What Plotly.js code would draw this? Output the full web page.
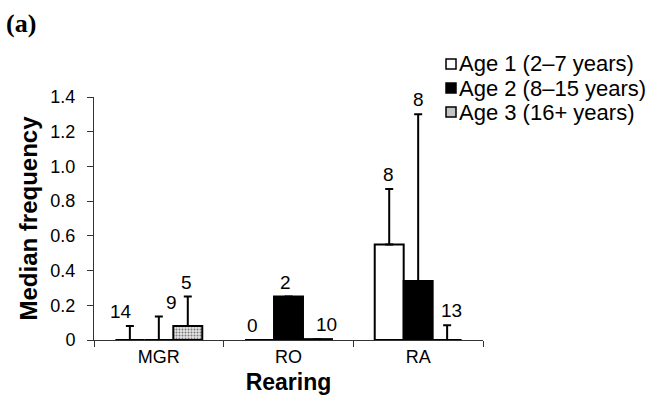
<!DOCTYPE html>
<html><head><meta charset="utf-8">
<script src="https://cdn.plot.ly/plotly-3.0.1.min.js"></script>
<style>body{margin:0;background:#fff}#c{width:665px;height:397px}</style>
</head><body><div id="c"></div>
<script>
const categories = ['MGR', 'RO', 'RA'];
const seriesNames = ['Age 1 (2\u20137 years)', 'Age 2 (8\u201315 years)', 'Age 3 (16+ years)'];
const age1 = [0, 0, 0.55];
const age2 = [0, 0.25, 0.34];
const age3 = [0.08, 0.005, 0];
const age1Err = [0.08, null, 0.32];
const age2Err = [0.135, null, 0.96];
const age3Err = [0.17, null, 0.085];
const age1N = ['14', '0', '8'];
const age2N = ['9', '2', '8'];
const age3N = ['5', '10', '13'];
const yTickVals = [0, 0.2, 0.4, 0.6, 0.8, 1.0, 1.2, 1.4];
const yTickText = ['0', '0.2', '0.4', '0.6', '0.8', '1.0', '1.2', '1.4'];

const values = [age1, age2, age3];
const errs = [age1Err, age2Err, age3Err];
const ns = [age1N, age2N, age3N];
const FONT = 'Liberation Sans, Arial, sans-serif';

const markers = [
  {color: '#ffffff', line: {color: '#000', width: 2}},
  {color: '#000000', line: {color: '#000', width: 2}},
  {color: '#d8d8d8', line: {color: '#000', width: 2},
   pattern: {shape: '.', bgcolor: '#e6e6e6', fgcolor: '#777', size: 3, solidity: 0.35}}
];
const legendColors = ['#ffffff', '#000000', '#c4c4c4'];

const traces = values.map((v, i) => ({
  type: 'bar', x: categories, y: v, name: seriesNames[i], marker: markers[i], showlegend: false,
  error_y: {type: 'data', symmetric: false, array: errs[i], arrayminus: v.map(() => 0),
            color: '#000', thickness: 2, width: 4}
}));

// label pixel offsets (style, not data)
const groupShift = [-29, 0, 29];
const labelDx = [[-9, -7, -1], [13, -3, 0], [-1, 9, 4]];
const annotations = [];
for (let s = 0; s < 3; s++) {
  for (let c = 0; c < 3; c++) {
    const top = values[s][c] + (errs[s][c] || 0);
    annotations.push({
      x: categories[c], y: top, xref: 'x', yref: 'y', text: ns[s][c], showarrow: false,
      xshift: groupShift[s] + labelDx[s][c], yanchor: 'bottom', yshift: 2,
      font: {family: FONT, size: 19, color: '#000'}
    });
  }
}
annotations.push({x: 0, y: 1, xref: 'paper', yref: 'paper', xanchor: 'left', yanchor: 'top',
  text: '<b>(a)</b>', showarrow: false, xshift: -90, yshift: 90,
  font: {family: 'Liberation Serif, Times New Roman, serif', size: 26, color: '#000'}});

// legend key (layout positions in paper units)
const legendX = 0.935, legendRowY = [1.136, 1.037, 0.938], keyX0 = 0.9049, keyX1 = 0.9306, keyH = 0.0206;
const shapes = [];
seriesNames.forEach((n, i) => {
  annotations.push({x: legendX, y: legendRowY[i], xref: 'paper', yref: 'paper', xanchor: 'left',
    yanchor: 'middle', text: n, showarrow: false, borderpad: 0,
    font: {family: FONT, size: 22, color: '#000'}});
  shapes.push({type: 'rect', xref: 'paper', yref: 'paper', x0: keyX0, x1: keyX1,
    y0: legendRowY[i] - keyH, y1: legendRowY[i] + keyH,
    fillcolor: legendColors[i], line: {color: '#000', width: 1.5}});
});

const layout = {
  width: 665, height: 397,
  margin: {l: 94, r: 182, t: 97, b: 57},
  paper_bgcolor: '#fff', plot_bgcolor: '#fff',
  barmode: 'group', bargap: 0.33, bargroupgap: 0,
  showlegend: false,
  xaxis: {showline: true, linecolor: '#333', linewidth: 1, ticks: 'outside', tickson: 'boundaries',
          ticklen: 6, tickcolor: '#333', showgrid: false, zeroline: false,
          tickfont: {family: FONT, size: 18, color: '#000'},
          title: {text: '<b>Rearing</b>', standoff: 8,
                  font: {family: FONT, size: 23, color: '#000'}}},
  yaxis: {range: [0, 1.4], tickmode: 'array', tickvals: yTickVals, ticktext: yTickText,
          showline: true, linecolor: '#333', linewidth: 1,
          ticks: 'outside', ticklen: 6, tickcolor: '#333', showgrid: false, zeroline: false,
          ticklabelstandoff: 8,
          tickfont: {family: FONT, size: 18, color: '#000'},
          title: {text: '<b>Median frequency</b>', standoff: 5,
                  font: {family: FONT, size: 24, color: '#000'}}},
  annotations: annotations,
  shapes: shapes
};
Plotly.newPlot('c', traces, layout, {staticPlot: true});
</script></body></html>
